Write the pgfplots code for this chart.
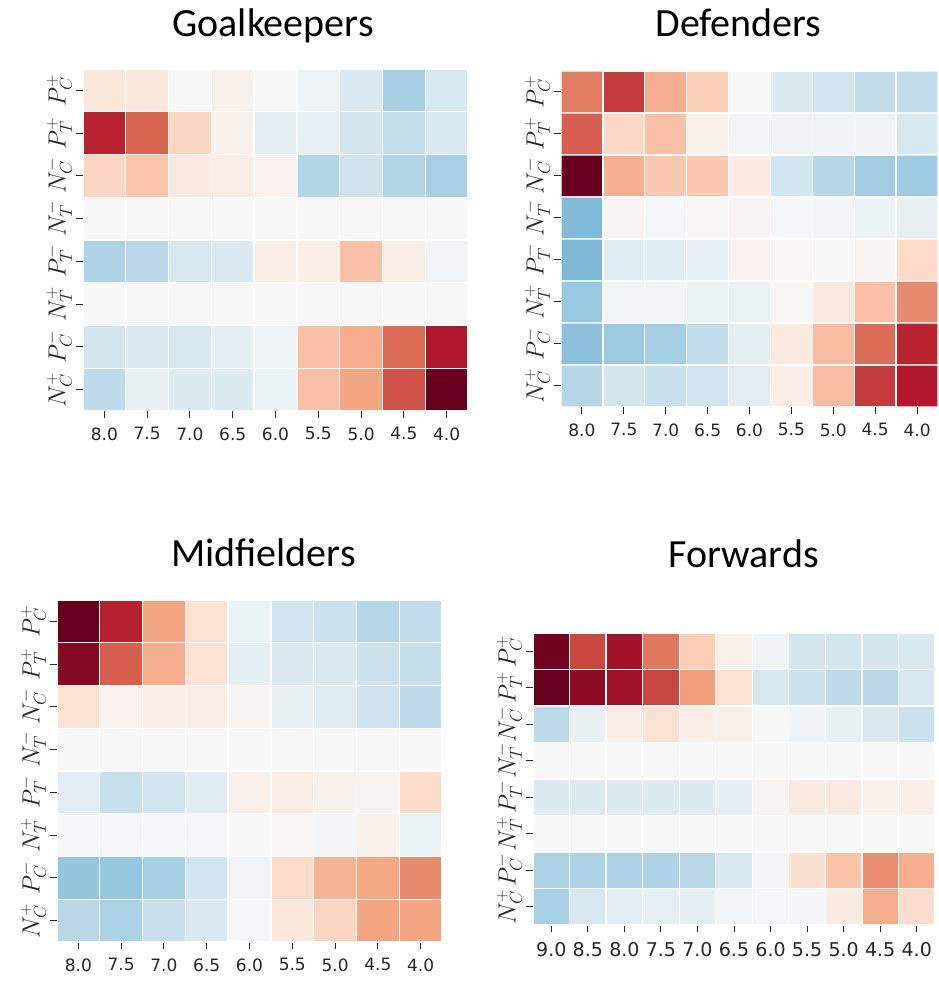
\documentclass[border=0pt]{standalone}
\usepackage{fontspec}
\usepackage{pgfplots}
\usepackage{pgfplotstable}
\pgfplotsset{compat=1.18}
\newfontfamily\tickfont{DejaVu Sans}
\newfontfamily\titlefont{Carlito}
\definecolor{txt}{HTML}{262626}

\pgfplotstableread{
x y c
0 0 0.12
1 0 0.11
2 0 0.0
3 0 0.05
4 0 0.0
5 0 -0.05
6 0 -0.15
7 0 -0.34
8 0 -0.18
0 1 0.77
1 1 0.59
2 1 0.22
3 1 0.05
4 1 -0.10
5 1 -0.09
6 1 -0.19
7 1 -0.24
8 1 -0.16
0 2 0.22
1 2 0.28
2 2 0.10
3 2 0.08
4 2 0.04
5 2 -0.30
6 2 -0.21
7 2 -0.30
8 2 -0.33
0 3 0
1 3 0
2 3 0
3 3 0
4 3 0
5 3 0
6 3 0
7 3 0
8 3 0
0 4 -0.32
1 4 -0.28
2 4 -0.17
3 4 -0.15
4 4 0.08
5 4 0.07
6 4 0.30
7 4 0.08
8 4 -0.03
0 5 0
1 5 0
2 5 0
3 5 0
4 5 0
5 5 0
6 5 0
7 5 0
8 5 0
0 6 -0.19
1 6 -0.15
2 6 -0.16
3 6 -0.10
4 6 -0.05
5 6 0.30
6 6 0.37
7 6 0.56
8 6 0.81
0 7 -0.26
1 7 -0.08
2 7 -0.14
3 7 -0.14
4 7 -0.06
5 7 0.30
6 7 0.40
7 7 0.64
8 7 1.00
}\gk

\pgfplotstableread{
x y c
0 0 0.52
1 0 0.70
2 0 0.36
3 0 0.25
4 0 0.0
5 0 -0.14
6 0 -0.20
7 0 -0.25
8 0 -0.25
0 1 0.60
1 1 0.21
2 1 0.30
3 1 0.05
4 1 -0.03
5 1 -0.04
6 1 -0.04
7 1 -0.04
8 1 -0.17
0 2 1.00
1 2 0.36
2 2 0.27
3 2 0.27
4 2 0.09
5 2 -0.20
6 2 -0.29
7 2 -0.35
8 2 -0.36
0 3 -0.44
1 3 0.03
2 3 -0.01
3 3 0.01
4 3 0.03
5 3 -0.01
6 3 -0.03
7 3 -0.06
8 3 -0.08
0 4 -0.45
1 4 -0.13
2 4 -0.13
3 4 -0.09
4 4 0.04
5 4 0.01
6 4 0.0
7 4 0.02
8 4 0.20
0 5 -0.38
1 5 -0.03
2 5 -0.03
3 5 -0.07
4 5 -0.07
5 5 0.01
6 5 0.10
7 5 0.30
8 5 0.48
0 6 -0.42
1 6 -0.37
2 6 -0.34
3 6 -0.25
4 6 -0.10
5 6 0.10
6 6 0.31
7 6 0.56
8 6 0.77
0 7 -0.29
1 7 -0.19
2 7 -0.23
3 7 -0.20
4 7 -0.11
5 7 0.07
6 7 0.31
7 7 0.70
8 7 0.80
}\df

\pgfplotstableread{
x y c
0 0 1.00
1 0 0.78
2 0 0.40
3 0 0.15
4 0 -0.06
5 0 -0.20
6 0 -0.22
7 0 -0.29
8 0 -0.25
0 1 0.92
1 1 0.60
2 1 0.37
3 1 0.15
4 1 -0.10
5 1 -0.15
6 1 -0.15
7 1 -0.22
8 1 -0.24
0 2 0.15
1 2 0.04
2 2 0.08
3 2 0.08
4 2 0.03
5 2 -0.08
6 2 -0.13
7 2 -0.21
8 2 -0.26
0 3 0
1 3 0
2 3 0
3 3 0
4 3 0
5 3 0
6 3 0
7 3 0
8 3 0
0 4 -0.11
1 4 -0.23
2 4 -0.20
3 4 -0.13
4 4 0.06
5 4 0.08
6 4 0.05
7 4 0.03
8 4 0.19
0 5 -0.01
1 5 -0.01
2 5 -0.01
3 5 -0.01
4 5 0.0
5 5 0.01
6 5 -0.02
7 5 0.05
8 5 -0.07
0 6 -0.40
1 6 -0.39
2 6 -0.34
3 6 -0.20
4 6 -0.03
5 6 0.19
6 6 0.35
7 6 0.39
8 6 0.48
0 7 -0.28
1 7 -0.32
2 7 -0.23
3 7 -0.15
4 7 -0.01
5 7 0.12
6 7 0.22
7 7 0.40
8 7 0.40
}\mf

\pgfplotstableread{
x y c
0 0 0.98
1 0 0.67
2 0 0.84
3 0 0.53
4 0 0.25
5 0 0.05
6 0 -0.04
7 0 -0.19
8 0 -0.19
9 0 -0.19
10 0 -0.16
0 1 1.00
1 1 0.90
2 1 0.85
3 1 0.67
4 1 0.42
5 1 0.15
6 1 -0.17
7 1 -0.22
8 1 -0.26
9 1 -0.28
10 1 -0.17
0 2 -0.27
1 2 -0.08
2 2 0.07
3 2 0.15
4 2 0.07
5 2 0.06
6 2 0.0
7 2 -0.04
8 2 -0.08
9 2 -0.15
10 2 -0.22
0 3 0
1 3 0
2 3 0
3 3 0
4 3 0
5 3 0
6 3 0
7 3 0
8 3 0
9 3 0
10 3 0
0 4 -0.14
1 4 -0.14
2 4 -0.14
3 4 -0.14
4 4 -0.14
5 4 -0.10
6 4 0.03
7 4 0.10
8 4 0.10
9 4 0.05
10 4 0.07
0 5 0
1 5 0
2 5 0
3 5 0
4 5 0
5 5 0
6 5 0
7 5 0
8 5 0
9 5 0
10 5 0
0 6 -0.32
1 6 -0.32
2 6 -0.32
3 6 -0.31
4 6 -0.28
5 6 -0.17
6 6 -0.02
7 6 0.16
8 6 0.29
9 6 0.47
10 6 0.37
0 7 -0.33
1 7 -0.17
2 7 -0.11
3 7 -0.09
4 7 -0.10
5 7 -0.03
6 7 -0.01
7 7 -0.02
8 7 0.09
9 7 0.37
10 7 0.18
}\fw

\pgfplotsset{
  heat/.style={
    scale only axis,
    y dir=reverse,
    enlargelimits=false,
    ymin=-0.5, ymax=7.5,
    colormap={rdbur}{rgb255=(5,48,97) rgb255=(33,102,172) rgb255=(67,147,195) rgb255=(146,197,222) rgb255=(209,229,240) rgb255=(247,247,247) rgb255=(253,219,199) rgb255=(244,165,130) rgb255=(214,96,77) rgb255=(178,24,43) rgb255=(103,0,31)},
    point meta min=-1, point meta max=1,
    axis line style={draw=none},
    tick align=outside,
    major tick length=7pt,
    tick style={color=txt, line width=1pt},
    xtick pos=lower, ytick pos=left,
    ytick={0,...,7},
    yticklabels={$P_C^+$,$P_T^+$,$N_C^-$,$N_T^-$,$P_T^-$,$N_T^+$,$P_C^-$,$N_C^+$},
    yticklabel style={font=\fontsize{25}{30}\selectfont, text=txt, rotate=90, anchor=south, inner sep=4pt},
    xticklabel style={font=\tickfont\fontsize{17}{20}\selectfont, text=txt, yshift=-6pt},
  },
  cells/.style={matrix plot*, mesh/cols=#1, point meta=explicit, draw=white, line width=1.3pt},
}

\begin{document}
\begin{tikzpicture}
\path (0pt,0pt) rectangle (938pt,982pt);

\begin{axis}[heat, at={(83pt,571pt)}, anchor=south west, width=385pt, height=342pt,
  xmin=-0.5, xmax=8.5, xtick={0,...,8},
  xticklabels={8.0,7.5,7.0,6.5,6.0,5.5,5.0,4.5,4.0}]
\addplot[cells=9] table[meta=c]{\gk};
\end{axis}

\begin{axis}[heat, at={(561pt,575pt)}, anchor=south west, width=377pt, height=336pt,
  xmin=-0.5, xmax=8.5, xtick={0,...,8},
  xticklabels={8.0,7.5,7.0,6.5,6.0,5.5,5.0,4.5,4.0}]
\addplot[cells=9] table[meta=c]{\df};
\end{axis}

\begin{axis}[heat, at={(57pt,40pt)}, anchor=south west, width=385pt, height=342pt,
  xmin=-0.5, xmax=8.5, xtick={0,...,8},
  xticklabels={8.0,7.5,7.0,6.5,6.0,5.5,5.0,4.5,4.0}]
\addplot[cells=9] table[meta=c]{\mf};
\end{axis}

\begin{axis}[heat, at={(533pt,57pt)}, anchor=south west, width=402pt, height=292pt,
  xmin=-0.5, xmax=10.5, xtick={0,...,10},
  xticklabels={9.0,8.5,8.0,7.5,7.0,6.5,6.0,5.5,5.0,4.5,4.0},
  xticklabel style={font=\tickfont\fontsize{19}{22}\selectfont, yshift=-1pt},
  yticklabel style={font=\fontsize{26}{30}\selectfont}]
\addplot[cells=11] table[meta=c]{\fw};
\end{axis}

\node[anchor=base, font=\titlefont\fontsize{40}{48}\selectfont] at (273pt,945pt) {Goalkeepers};
\node[anchor=base, font=\titlefont\fontsize{40}{48}\selectfont] at (738.5pt,945pt) {Defenders};
\node[anchor=base, font=\titlefont\fontsize{40}{48}\selectfont] at (263.5pt,415pt) {Midfielders};
\node[anchor=base, font=\titlefont\fontsize{40}{48}\selectfont] at (743.5pt,414pt) {Forwards};
\end{tikzpicture}
\end{document}
